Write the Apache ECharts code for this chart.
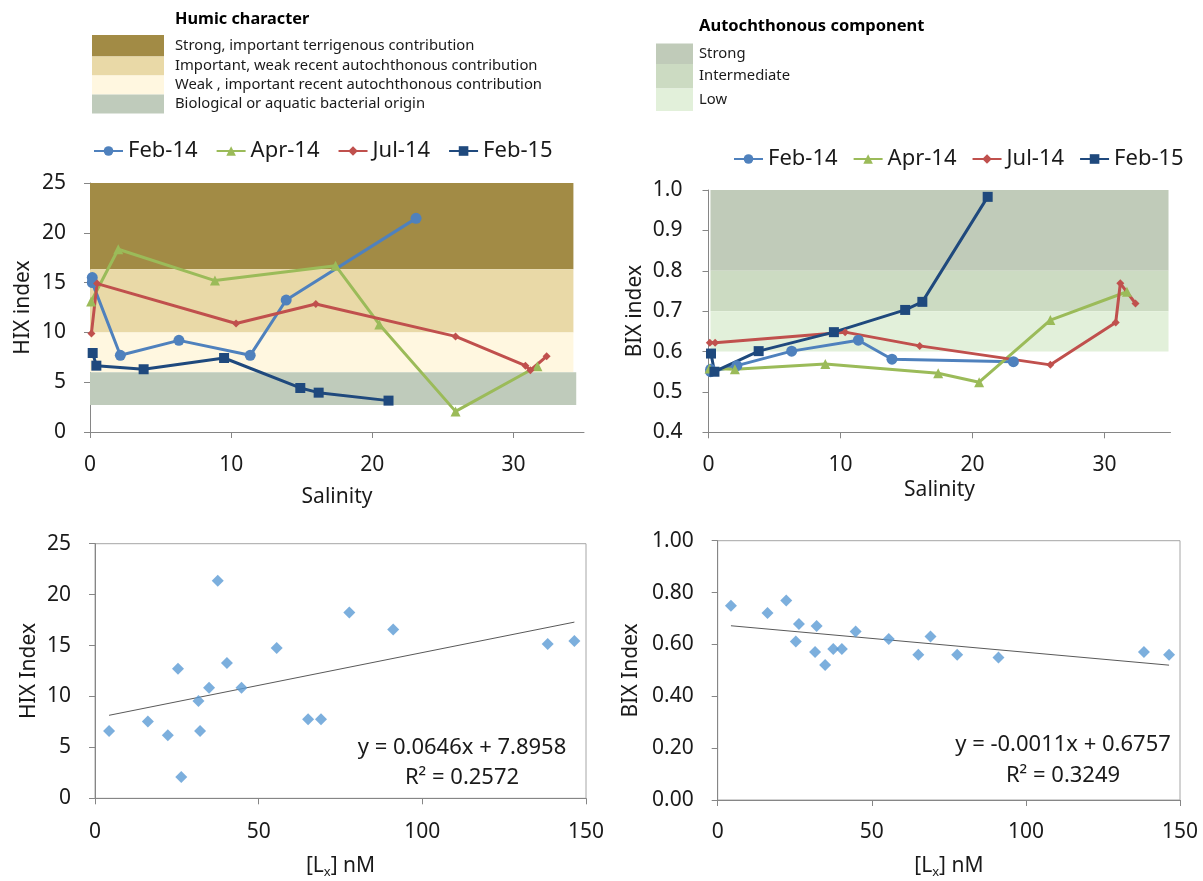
<!DOCTYPE html>
<html><head><meta charset="utf-8">
<script src="https://cdn.jsdelivr.net/npm/echarts@6/dist/echarts.min.js"></script>
<style>html,body{margin:0;padding:0;background:#fff}#c{width:1203px;height:881px}</style>
</head><body><div id="c"></div><script>
// ---------- DATA ----------
const seriesNames = ['Feb-14', 'Apr-14', 'Jul-14', 'Feb-15'];
// salinity per campaign
const salFeb14 = [0.16, 0.16, 2.15, 6.3, 11.35, 13.9, 23.1];
const salApr14 = [0.08, 2.0, 8.85, 17.4, 20.5, 25.9, 31.7];
const salJul14 = [0.1, 0.5, 10.35, 16.0, 25.9, 30.85, 31.2, 32.35];
const salFeb15 = [0.19, 0.45, 3.8, 9.5, 14.9, 16.2, 21.15];
// HIX index
const hixFeb14 = [15.5, 15.0, 7.7, 9.2, 7.7, 13.25, 21.45];
const hixApr14 = [13.1, 18.35, 15.2, 16.7, 10.8, 2.07, 6.6];
const hixJul14 = [9.9, 14.9, 10.9, 12.85, 9.6, 6.66, 6.2, 7.6];
const hixFeb15 = [7.93, 6.66, 6.3, 7.43, 4.42, 3.95, 3.15];
// BIX index
const bixFeb14 = [0.556, 0.55, 0.565, 0.601, 0.628, 0.581, 0.575];
const bixApr14 = [0.558, 0.556, 0.569, 0.546, 0.524, 0.678, 0.748];
const bixJul14 = [0.622, 0.622, 0.648, 0.614, 0.567, 0.672, 0.769, 0.719];
const bixFeb15 = [0.595, 0.55, 0.601, 0.648, 0.703, 0.723, 0.983];
// Humic character bands [xStart, xEnd, yLow, yHigh]
const humicBandNames = ['Strong, important terrigenous contribution', 'Important, weak recent autochthonous contribution', 'Weak , important recent autochthonous contribution', 'Biological or aquatic bacterial origin'];
const humicBands = [[0, 34.25, 16.35, 25], [0, 34.25, 10, 16.35], [0, 34.25, 6, 10], [0, 34.45, 2.7, 6]];
// Autochthonous component bands
const autoBandNames = ['Strong', 'Intermediate', 'Low'];
const autoBands = [[0.15, 34.85, 0.8, 1.0], [0.15, 34.85, 0.7, 0.8], [0.15, 34.85, 0.6, 0.7]];
// Scatter: ligand concentration [Lx] nM
const lx = [4.3, 16.15, 22.25, 25.35, 26.35, 31.6, 32.1, 34.85, 37.5, 40.3, 44.75, 55.5, 65.1, 69.05, 77.7, 91.1, 138.3, 146.45];
const hixScatter = [6.6, 7.55, 6.18, 12.72, 2.09, 9.55, 6.6, 10.85, 21.36, 13.28, 10.85, 14.75, 7.75, 7.75, 18.25, 16.58, 15.14, 15.44];
const bixScatter = [0.749, 0.721, 0.769, 0.611, 0.679, 0.571, 0.671, 0.521, 0.582, 0.582, 0.650, 0.621, 0.560, 0.631, 0.560, 0.550, 0.571, 0.560];
// trend line end points
const hixTrend = [[4.3, 8.15], [146.45, 17.3]];
const bixTrend = [[4.3, 0.672], [146.45, 0.52]];
const hixEq = ['y = 0.0646x + 7.8958', 'R\u00B2 = 0.2572'];
const bixEq = ['y = -0.0011x + 0.6757', 'R\u00B2 = 0.3249'];
// tick labels
const salTicks = [0, 10, 20, 30];

// ---------- STYLE ----------
const FONT = 'Noto Sans';
const lineColors = ['#4F81BD', '#9BBB59', '#C0504D', '#1F497D'];
const symbols = ['circle', 'triangle', 'diamond', 'rect'];
const symSizes = [11, 10, 8, 10];
const humicColors = ['#A28B45', '#E9D9A7', '#FFF7E0', '#BFCBBB'];
const autoColors = ['#C0CBB9', '#CCDBC2', '#E2F0DA'];
const axisGrey = '#868686';

function zip(xs, ys) { return xs.map((x, i) => [x, ys[i]]); }

const salX = [salFeb14, salApr14, salJul14, salFeb15];
const hixY = [hixFeb14, hixApr14, hixJul14, hixFeb15];
const bixY = [bixFeb14, bixApr14, bixJul14, bixFeb15];

function bandSeries(idx, bands, colors) {
  return {
    type: 'line', xAxisIndex: idx, yAxisIndex: idx, data: [], silent: true, z: 1,
    markArea: {
      silent: true,
      data: bands.map((b, i) => [
        { xAxis: b[0], yAxis: b[2], itemStyle: { color: colors[i], opacity: 1 } },
        { xAxis: b[1], yAxis: b[3] }
      ])
    }
  };
}

const series = [bandSeries(0, humicBands, humicColors), bandSeries(1, autoBands, autoColors)];
seriesNames.forEach((n, i) => {
  series.push({
    name: n, type: 'line', xAxisIndex: 0, yAxisIndex: 0, z: 3,
    data: zip(salX[i], hixY[i]), symbol: symbols[i], symbolSize: symSizes[i],
    showAllSymbol: true,
    lineStyle: { color: lineColors[i], width: 3 }, itemStyle: { color: lineColors[i] }
  });
});
seriesNames.forEach((n, i) => {
  series.push({
    name: n, type: 'line', xAxisIndex: 1, yAxisIndex: 1, z: 3,
    data: zip(salX[i], bixY[i]), symbol: symbols[i], symbolSize: symSizes[i],
    showAllSymbol: true,
    lineStyle: { color: lineColors[i], width: 3 }, itemStyle: { color: lineColors[i] }
  });
});
series.push({ type: 'scatter', xAxisIndex: 2, yAxisIndex: 2, data: zip(lx, hixScatter), symbol: 'diamond', symbolSize: 12, itemStyle: { color: '#5B9BD5' }, z: 3 });
series.push({ type: 'line', xAxisIndex: 2, yAxisIndex: 2, data: hixTrend, symbol: 'none', lineStyle: { color: '#595959', width: 1 }, z: 2 });
series.push({ type: 'scatter', xAxisIndex: 3, yAxisIndex: 3, data: zip(lx, bixScatter), symbol: 'diamond', symbolSize: 12, itemStyle: { color: '#5B9BD5' }, z: 3 });
series.push({ type: 'line', xAxisIndex: 3, yAxisIndex: 3, data: bixTrend, symbol: 'none', lineStyle: { color: '#595959', width: 1 }, z: 2 });

const labelStyle = { color: '#1a1a1a', fontSize: 21, fontFamily: FONT };
const nameStyle = { color: '#1a1a1a', fontSize: 21, fontFamily: FONT };

function xAxis(idx, min, max, interval, nameGap, custom, labelMargin, name) {
  const ax = {
    type: 'value', gridIndex: idx, min: min, max: max, interval: interval,
    name: name, nameLocation: 'middle', nameGap: nameGap, nameTextStyle: nameStyle,
    axisLine: { show: true, onZero: false, lineStyle: { color: axisGrey, width: 1 } },
    axisTick: { show: true, length: 6, lineStyle: { color: axisGrey } },
    axisLabel: Object.assign({ margin: labelMargin }, labelStyle),
    splitLine: { show: false }
  };
  if (custom) { ax.axisTick.customValues = custom; ax.axisLabel.customValues = custom; }
  if (name && name.indexOf('{sub|') >= 0) {
    ax.nameTextStyle = Object.assign({}, nameStyle, { rich: { sub: { fontSize: 13, fontFamily: FONT, color: '#1a1a1a', verticalAlign: 'bottom', padding: [12, 0, 0, 0] } } });
  }
  return ax;
}
function yAxis(idx, min, max, interval, nameGap, decimals, labelMargin, name) {
  return {
    type: 'value', gridIndex: idx, min: min, max: max, interval: interval,
    name: name, nameLocation: 'middle', nameGap: nameGap, nameTextStyle: nameStyle,
    axisLine: { show: true, onZero: false, lineStyle: { color: axisGrey, width: 1 } },
    axisTick: { show: true, length: 6, lineStyle: { color: axisGrey } },
    axisLabel: Object.assign({ margin: labelMargin, formatter: v => v.toFixed(decimals) }, labelStyle),
    splitLine: { show: false }
  };
}

const graphic = [];
// Humic legend
graphic.push({ type: 'text', left: 175, top: 11, style: { text: 'Humic character', font: 'bold 16.3px "Noto Sans"', fill: '#000' } });
const humicRows = [[35, 56.5], [56.5, 75.5], [75.5, 94.5], [94.5, 113.5]];
humicRows.forEach((r, i) => {
  graphic.push({ type: 'rect', shape: { x: 92, y: r[0], width: 72, height: r[1] - r[0] }, style: { fill: humicColors[i] } });
  graphic.push({ type: 'text', x: 175, y: (r[0] + r[1]) / 2, style: { text: humicBandNames[i], font: '14.8px "Noto Sans"', fill: '#1a1a1a', textVerticalAlign: 'middle' } });
});
// Autochthonous legend
graphic.push({ type: 'text', left: 699, top: 18, style: { text: 'Autochthonous component', font: 'bold 16.5px "Noto Sans"', fill: '#000' } });
const autoRows = [[43.5, 64], [64, 88.5], [88.5, 111]];
autoRows.forEach((r, i) => {
  graphic.push({ type: 'rect', shape: { x: 656, y: r[0], width: 37, height: r[1] - r[0] }, style: { fill: autoColors[i] } });
  graphic.push({ type: 'text', x: 699, y: (r[0] + r[1]) / 2, style: { text: autoBandNames[i], font: '14.8px "Noto Sans"', fill: '#1a1a1a', textVerticalAlign: 'middle' } });
});
// equations
graphic.push({ type: 'text', x: 462, y: 748, style: { text: hixEq[0], font: '22px "Noto Sans"', fill: '#1a1a1a', textAlign: 'center', textVerticalAlign: 'middle' } });
graphic.push({ type: 'text', x: 462, y: 778, style: { text: hixEq[1], font: '22px "Noto Sans"', fill: '#1a1a1a', textAlign: 'center', textVerticalAlign: 'middle' } });
graphic.push({ type: 'text', x: 1063, y: 745, style: { text: bixEq[0], font: '22px "Noto Sans"', fill: '#1a1a1a', textAlign: 'center', textVerticalAlign: 'middle' } });
graphic.push({ type: 'text', x: 1063, y: 776, style: { text: bixEq[1], font: '22px "Noto Sans"', fill: '#1a1a1a', textAlign: 'center', textVerticalAlign: 'middle' } });

const legendText = { fontSize: 22, fontFamily: FONT, color: '#1a1a1a' };
const option = {
  animation: false,
  backgroundColor: '#fff',
  textStyle: { fontFamily: FONT },
  legend: [
    { data: seriesNames, left: 88, top: 135, width: 500, itemWidth: 29, itemHeight: 12, itemGap: 18, textStyle: legendText, selectedMode: false },
    { data: seriesNames, left: 728, top: 143, width: 475, itemWidth: 29, itemHeight: 12, itemGap: 15, textStyle: legendText, selectedMode: false }
  ],
  grid: [
    { left: 90, top: 183, width: 494, height: 249 },
    { left: 708.5, top: 190, width: 462, height: 242.3 },
    { left: 95, top: 543.7, width: 491, height: 254.6, show: true, borderColor: '#A6A6A6', borderWidth: 1, backgroundColor: 'transparent' },
    { left: 717.7, top: 540.7, width: 462.3, height: 259.3, show: true, borderColor: '#A6A6A6', borderWidth: 1, backgroundColor: 'transparent' }
  ],
  xAxis: [
    xAxis(0, 0, 35, 10, 55, salTicks, 23, 'Salinity'),
    xAxis(1, 0, 35, 10, 47, salTicks, 22, 'Salinity'),
    xAxis(2, 0, 150, 50, 55, null, 23, '[L{sub|x}] nM'),
    xAxis(3, 0, 150, 50, 54, null, 22, '[L{sub|x}] nM')
  ],
  yAxis: [
    yAxis(0, 0, 25, 5, 56, 0, 24, 'HIX index'),
    yAxis(1, 0.4, 1.0, 0.1, 63, 1, 26, 'BIX index'),
    yAxis(2, 0, 25, 5, 55, 0, 24, 'HIX Index'),
    yAxis(3, 0, 1.0, 0.2, 76, 2, 24, 'BIX Index')
  ],
  graphic: graphic,
  series: series
};
const chart = echarts.init(document.getElementById('c'), null, { renderer: 'canvas' });
chart.setOption(option);
</script></body></html>
